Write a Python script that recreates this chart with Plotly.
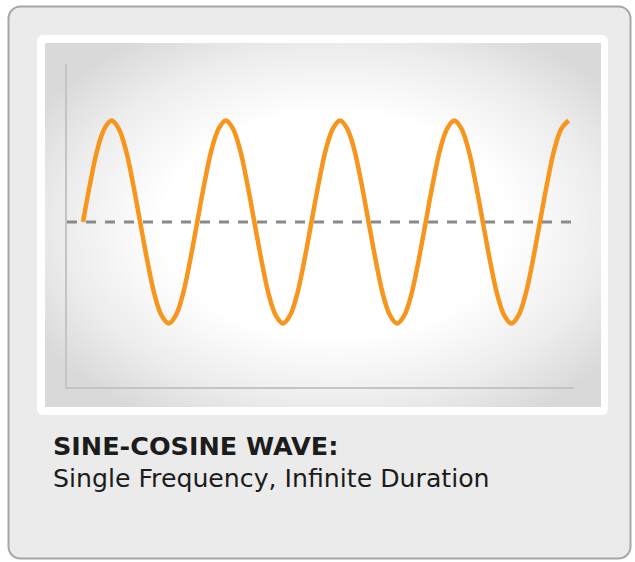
import base64
import plotly.graph_objects as go

# ---- data (t in quarter-periods, amplitude normalised) ----
wave_t = [0, 0.25, 0.5, 0.75, 1, 1.25, 1.5, 1.75, 2, 2.25, 2.5, 2.75, 3, 3.25,
          3.5, 3.75, 4, 4.25, 4.5, 4.75, 5, 5.25, 5.5, 5.75, 6, 6.25, 6.5,
          6.75, 7, 7.25, 7.5, 7.75, 8, 8.25, 8.5, 8.75, 9, 9.25, 9.5, 9.75,
          10, 10.25, 10.5, 10.75, 11, 11.25, 11.5, 11.75, 12, 12.25, 12.5,
          12.75, 13, 13.25, 13.5, 13.75, 14, 14.25, 14.5, 14.75, 15, 15.25,
          15.5, 15.75, 16, 16.25, 16.5, 16.75, 17]
wave_y = [0, 0.38, 0.71, 0.92, 1, 0.92, 0.71, 0.38,
          0, -0.38, -0.71, -0.92, -1, -0.92, -0.71, -0.38,
          0, 0.38, 0.71, 0.92, 1, 0.92, 0.71, 0.38,
          0, -0.38, -0.71, -0.92, -1, -0.92, -0.71, -0.38,
          0, 0.38, 0.71, 0.92, 1, 0.92, 0.71, 0.38,
          0, -0.38, -0.71, -0.92, -1, -0.92, -0.71, -0.38,
          0, 0.38, 0.71, 0.92, 1, 0.92, 0.71, 0.38,
          0, -0.38, -0.71, -0.92, -1, -0.92, -0.71, -0.38,
          0, 0.38, 0.71, 0.92, 1]
baseline_y = 0
title_text = "SINE-COSINE WAVE:"
subtitle_text = "Single Frequency, Infinite Duration"

W, H = 635, 562

# background decoration (frame + white panel + radial gradient) as an SVG image
svg = f'''<svg xmlns="http://www.w3.org/2000/svg" width="{W}" height="{H}" viewBox="0 0 {W} {H}">
<defs>
<radialGradient id="g" cx="0.52" cy="0.5" r="0.62">
<stop offset="0" stop-color="#ffffff"/>
<stop offset="0.5" stop-color="#ffffff"/>
<stop offset="0.78" stop-color="#ededed"/>
<stop offset="1" stop-color="#d9d9d9"/>
</radialGradient>
</defs>
<rect x="0" y="0" width="{W}" height="{H}" fill="#ffffff"/>
<rect x="8.5" y="6.5" width="622" height="552" rx="12" ry="12" fill="#ebebeb" stroke="#a6a6a6" stroke-width="2"/>
<rect x="37" y="35" width="571" height="380" rx="6" ry="6" fill="#ffffff"/>
<rect x="45" y="43" width="556" height="364" fill="url(#g)"/>
</svg>'''
svg_uri = "data:image/svg+xml;base64," + base64.b64encode(svg.encode()).decode()

def px(x):
    return x / W

def py(y):
    return 1 - y / H

# axis geometry (pixels) -> domains
x_left, x_right = 67, 574
y_top, y_bottom = 64, 387
t0_px, quarter_px = 83, 28.56
mid_px, amp_px = 222, 101.5
x_range = [(x_left - t0_px) / quarter_px, (x_right - t0_px) / quarter_px]
y_range = [(mid_px - y_bottom) / amp_px, (mid_px - y_top) / amp_px]

fig = go.Figure()
fig.add_trace(go.Scatter(
    x=wave_t, y=wave_y, mode="lines",
    line=dict(color="#f7951d", width=4.5, shape="spline", smoothing=1.0),
    hoverinfo="skip", showlegend=False, cliponaxis=False,
))

fig.add_shape(type="line", xref="x", yref="y",
              x0=x_range[0], x1=(580 - t0_px) / quarter_px,
              y0=baseline_y, y1=baseline_y,
              line=dict(color="#8a8a8a", width=3, dash="10px,9px"),
              layer="below")

fig.add_layout_image(dict(source=svg_uri, xref="paper", yref="paper",
                          x=0, y=1, sizex=1, sizey=1, xanchor="left",
                          yanchor="top", sizing="stretch", layer="below"))

fig.add_annotation(text=f"<b>{title_text}</b>", xref="paper", yref="paper",
                   x=px(51), y=py(457), xanchor="left", yanchor="bottom",
                   showarrow=False, yshift=-6,
                   font=dict(family="DejaVu Sans", size=25.5, color="#1c1c1c"))
fig.add_annotation(text=subtitle_text, xref="paper", yref="paper",
                   x=px(51), y=py(489), xanchor="left", yanchor="bottom",
                   showarrow=False, yshift=-6,
                   font=dict(family="DejaVu Sans", size=25.2, color="#1c1c1c"))

axis_common = dict(showgrid=False, zeroline=False, showticklabels=False,
                   ticks="", showline=True, linecolor="#c4c4c4", linewidth=2,
                   fixedrange=True)
fig.update_layout(
    width=W, height=H,
    margin=dict(l=0, r=0, t=0, b=0),
    paper_bgcolor="#ffffff",
    plot_bgcolor="rgba(0,0,0,0)",
    xaxis=dict(domain=[px(x_left), px(x_right)], range=x_range, **axis_common),
    yaxis=dict(domain=[py(y_bottom), py(y_top)], range=y_range, **axis_common),
)

fig.write_html("out.html", config={"displayModeBar": False},
               post_script="document.body.style.margin='0';")
